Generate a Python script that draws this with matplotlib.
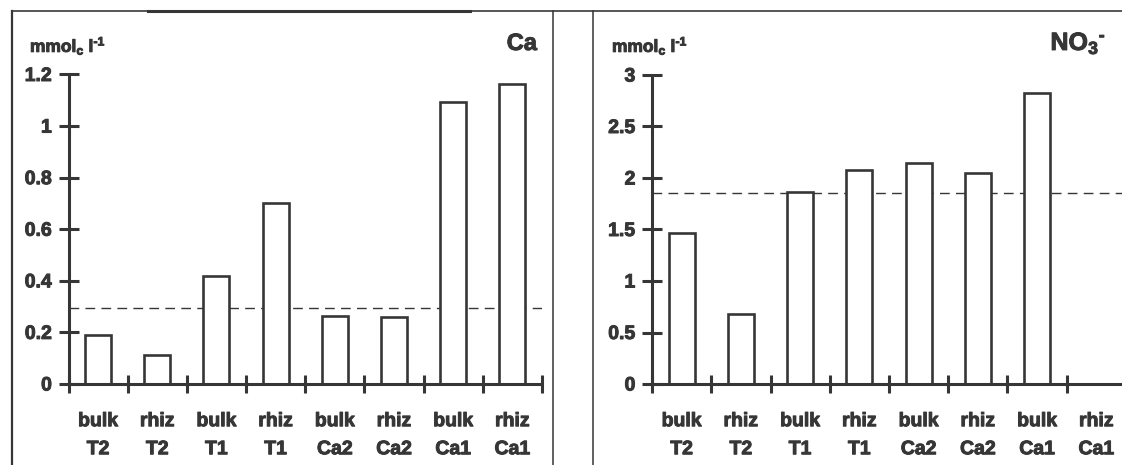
import numpy as np
import matplotlib
matplotlib.use("Agg")
import matplotlib.pyplot as plt
from matplotlib.lines import Line2D
import matplotlib.patheffects as pe

plt.rcParams['font.family'] = ['Liberation Sans', 'DejaVu Sans']
plt.rcParams['mathtext.fontset'] = 'custom'
plt.rcParams['mathtext.rm'] = 'Liberation Sans:bold'
plt.rcParams['mathtext.bf'] = 'Liberation Sans:bold'
plt.rcParams['mathtext.it'] = 'Liberation Sans:bold'

# ---- data ----
categories = ["bulk\nT2", "rhiz\nT2", "bulk\nT1", "rhiz\nT1",
              "bulk\nCa2", "rhiz\nCa2", "bulk\nCa1", "rhiz\nCa1"]
ca_values = [0.19, 0.113, 0.42, 0.70, 0.264, 0.259, 1.094, 1.165]
ca_ref = 0.295
ca_ticks = [0, 0.2, 0.4, 0.6, 0.8, 1, 1.2]
ca_ticklabels = ["0", "0.2", "0.4", "0.6", "0.8", "1", "1.2"]

no3_values = [1.47, 0.68, 1.86, 2.08, 2.15, 2.05, 2.83, np.nan]
no3_ref = 1.85
no3_ticks = [0, 0.5, 1, 1.5, 2, 2.5, 3]
no3_ticklabels = ["0", "0.5", "1", "1.5", "2", "2.5", "3"]

unit_label = r"mmol$_{\mathrm{c}}$ l$^{\text{-}\mathrm{1}}$"

W, H = 1122, 465
fig = plt.figure(figsize=(W / 100, H / 100), dpi=100)
C = "#363636"
heavy = [pe.withStroke(linewidth=0.7, foreground=C)]

def px_rect(x0, x1, y_top, y_bot):
    return [x0 / W, 1 - y_bot / H, (x1 - x0) / W, (y_bot - y_top) / H]

def panel(rect, values, ref, ticks, ticklabels, ymax, title, unit_x,
          title_x, title_size):
    ax = fig.add_axes(rect)
    x = np.arange(len(values)) + 0.5
    vals = np.array(values, dtype=float)
    m = ~np.isnan(vals)
    ax.bar(x[m], vals[m], width=0.44, facecolor="white", edgecolor=C,
           linewidth=1.9, zorder=2)
    ax.axhline(ref, color=C, lw=1.0, dashes=(7, 4.5), zorder=1)
    ax.set_xlim(0, len(values))
    ax.set_ylim(0, ymax)
    for s in ["top", "right"]:
        ax.spines[s].set_visible(False)
    for s in ["left", "bottom"]:
        ax.spines[s].set_color(C)
        ax.spines[s].set_linewidth(2.2)
        ax.spines[s].set_capstyle("butt")
    ax.set_yticks(ticks)
    ax.set_yticklabels(ticklabels, fontsize=14, fontweight="bold", color=C)
    ax.tick_params(axis="y", direction="inout", length=14, width=2.2,
                   color=C, pad=5)
    ax.set_xticks(np.arange(len(values) + 1))
    ax.set_xticklabels([""] * (len(values) + 1))
    ax.set_xticks(x, minor=True)
    ax.set_xticklabels(categories, minor=True, fontsize=14,
                       fontweight="bold", color=C, linespacing=1.85)
    ax.tick_params(axis="x", which="major", direction="inout", length=13,
                   width=2.2, color=C)
    ax.tick_params(axis="x", which="minor", length=0, pad=21)
    ax.patch.set_alpha(0)
    for lab in ax.get_xticklabels(minor=True) + ax.get_yticklabels():
        lab.set_clip_on(False)
        lab.set_path_effects(heavy)
    fig.text(unit_x / W, 1 - 52 / H, unit_label, fontsize=12.5,
             fontweight="bold", color=C, ha="left", va="baseline",
             path_effects=heavy)
    fig.text(title_x / W, 1 - 50 / H, title, fontsize=title_size,
             fontweight="bold", color=C, ha="right", va="baseline",
             path_effects=heavy)
    return ax

ax1 = panel(px_rect(68.5, 542, 74.5, 384), ca_values, ca_ref, ca_ticks,
            ca_ticklabels, 1.2, "Ca", 30, 537, 17)
ax2 = panel(px_rect(652, 1126, 75, 384), no3_values, no3_ref, no3_ticks,
            no3_ticklabels, 3, r"NO$_{3}$$^{\text{-}}$", 612, 1106, 18)

# frame lines of the scanned figure
def fline(xs, ys, lw, color=C):
    fig.add_artist(Line2D([v / W for v in xs], [1 - v / H for v in ys],
                          lw=lw, color=color, transform=fig.transFigure))

fline([12, 1122], [11, 11], 1.4, "#555555")
fline([148, 470], [11, 11], 2.2)
fline([12, 12], [11, 465], 1.6)
fline([553, 553], [11, 465], 1.1)
fline([593, 593], [11, 465], 1.1)

fig.savefig("out.png", dpi=100, facecolor="white")
